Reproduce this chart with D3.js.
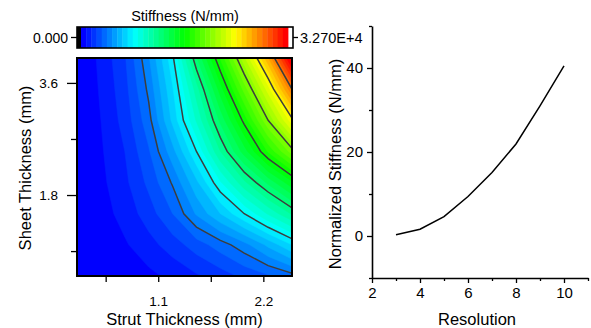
<!DOCTYPE html>
<html>
<head>
<meta charset="utf-8">
<script src="https://cdn.jsdelivr.net/npm/d3@7"></script>
<style>
  body { margin: 0; background: #fff; }
  text { font-family: "Liberation Sans", Arial, sans-serif; fill: #000; }
</style>
</head>
<body>
<svg id="chart" width="591" height="328"></svg>
<script>
// ---- data ----
// contour grid: columns = strut thickness, rows = sheet thickness (bottom row first)
var strutThickness = [0.25, 0.5, 0.75, 1.0, 1.25, 1.5, 1.75, 2.0, 2.25, 2.5];
var sheetThickness = [0.5, 1.0, 1.5, 2.0, 2.5, 3.0, 3.5, 4.0];
var stiffnessRows = [
    [0, 100, 300, 600, 1000, 1500, 2000, 2600, 3100, 3700],
    [0, 300, 700, 1300, 2000, 2800, 3600, 4500, 5800, 7200],
    [0, 450, 1100, 2000, 3200, 4900, 6400, 8000, 9700, 11300],
    [0, 600, 1400, 2600, 4100, 6200, 8700, 11000, 13000, 15000],
    [0, 700, 1600, 3100, 5300, 8000, 11200, 14000, 16900, 19600],
    [0, 800, 1900, 3700, 6600, 9700, 13000, 16300, 20000, 23700],
    [0, 900, 2100, 4200, 7100, 10800, 14800, 18700, 22800, 28000],
    [0, 1000, 2300, 4700, 7800, 12700, 16900, 21400, 26300, 32700]
];
var fillStep = 800;           // colour level spacing
var fillCount = 40;           // number of colour levels
var lineLevels = [4000, 8000, 12000, 16000, 20000, 24000, 28000];
var colorbarLabels = ['0.000', '3.270E+4'];

var strutTicks = [1.1, 2.2];
var strutMinor = [0.55, 1.65];
var sheetTicks = [1.8, 3.6];
var sheetMinor = [0.9, 2.7];

// line chart
var resolution = [3, 4, 5, 6, 7, 8, 9, 10];
var normStiffness = [0.3, 1.6, 4.6, 9.4, 15.1, 21.9, 31.0, 40.5];
var resTicks = [2, 4, 6, 8, 10];
var resMinor = [3, 5, 7, 9, 11];
var normTicks = [0, 20, 40];
var normMinor = [-10, 10, 30, 50];

var svg = d3.select('#chart');

// rainbow colour map blue -> cyan -> green -> yellow -> red
var rainbow = d3.scaleLinear()
    .domain([0, 0.25, 0.5, 0.75, 1])
    .range(['#0000ff', '#00ffff', '#00ff00', '#ffff00', '#ff0000']);
function levelColor(k) { return rainbow(k / (fillCount - 1)); }

// ===== Section: contour plot =====
var plot = {l: 77, r: 292, t: 58, b: 276};
var xL = d3.scaleLinear().domain([0.25, 2.5]).range([plot.l, plot.r]);
var yL = d3.scaleLinear().domain([0.5, 4.0]).range([plot.b, plot.t]);

var nx = strutThickness.length, ny = sheetThickness.length;
var values = [].concat.apply([], stiffnessRows);
var ds = strutThickness[1] - strutThickness[0];
var dt = sheetThickness[1] - sheetThickness[0];

var proj = d3.geoTransform({
    point: function(gx, gy) {
        this.stream.point(xL(strutThickness[0] + (gx - 0.5) * ds),
                          yL(sheetThickness[0] + (gy - 0.5) * dt));
    }
});
var path = d3.geoPath(proj);

svg.append('clipPath').attr('id', 'plotClip')
  .append('rect')
    .attr('x', plot.l).attr('y', plot.t)
    .attr('width', plot.r - plot.l).attr('height', plot.b - plot.t);

var contourG = svg.append('g').attr('clip-path', 'url(#plotClip)');

contourG.append('rect')
    .attr('x', plot.l).attr('y', plot.t)
    .attr('width', plot.r - plot.l).attr('height', plot.b - plot.t)
    .attr('fill', levelColor(0));

var fillThresholds = d3.range(1, fillCount).map(k => k * fillStep);
var fills = d3.contours().size([nx, ny]).thresholds(fillThresholds)(values);
contourG.selectAll('path.band')
    .data(fills).enter()
    .append('path')
    .attr('class', 'band')
    .attr('d', path)
    .attr('fill', (d, i) => levelColor(i + 1))
    .attr('stroke', (d, i) => levelColor(i + 1))
    .attr('stroke-width', 0.5);

var lines = d3.contours().size([nx, ny]).thresholds(lineLevels)(values);
contourG.selectAll('path.iso')
    .data(lines).enter()
    .append('path')
    .attr('class', 'iso')
    .attr('d', path)
    .attr('fill', 'none')
    .attr('stroke', '#3d3d3d')
    .attr('stroke-width', 1.5);

svg.append('rect')
    .attr('x', plot.l).attr('y', plot.t)
    .attr('width', plot.r - plot.l).attr('height', plot.b - plot.t)
    .attr('fill', 'none').attr('stroke', '#000').attr('stroke-width', 2);

function styleAxis(g, size) {
    g.select('.domain').remove();
    g.selectAll('line').attr('stroke', '#000').attr('stroke-width', 1.3);
    g.selectAll('text').attr('font-size', size).attr('font-family', '"Liberation Sans", Arial, sans-serif');
}

var xAxisL = svg.append('g').attr('transform', 'translate(0,' + (plot.b + 1) + ')')
    .call(d3.axisBottom(xL).tickValues(strutTicks).tickFormat(d3.format('.1f')).tickSize(5).tickPadding(14));
styleAxis(xAxisL, 13.5);
var xMinorL = svg.append('g').attr('transform', 'translate(0,' + (plot.b + 1) + ')')
    .call(d3.axisBottom(xL).tickValues(strutMinor).tickFormat('').tickSize(5));
styleAxis(xMinorL, 13.5);

var yAxisL = svg.append('g').attr('transform', 'translate(' + (plot.l - 1) + ',0)')
    .call(d3.axisLeft(yL).tickValues(sheetTicks).tickFormat(d3.format('.1f')).tickSize(9).tickPadding(9));
styleAxis(yAxisL, 13.5);
var yMinorL = svg.append('g').attr('transform', 'translate(' + (plot.l - 1) + ',0)')
    .call(d3.axisLeft(yL).tickValues(sheetMinor).tickFormat('').tickSize(5));
styleAxis(yMinorL, 13.5);

svg.append('text')
    .attr('x', (plot.l + plot.r) / 2).attr('y', 325)
    .attr('text-anchor', 'middle').attr('font-size', 16.5)
    .text('Strut Thickness (mm)');
svg.append('text')
    .attr('transform', 'translate(31,' + ((plot.t + plot.b) / 2 + 1) + ')rotate(-90)')
    .attr('text-anchor', 'middle').attr('font-size', 16.5)
    .text('Sheet Thickness (mm)');

// ---- colour bar ----
var cb = {l: 77, r: 293, t: 27, b: 48, c0: 81, c1: 288};
var cbScale = d3.scaleLinear().domain([0, fillCount]).range([cb.c0, cb.c1]);
var cbG = svg.append('g');
cbG.append('rect')
    .attr('x', cb.l).attr('y', cb.t).attr('width', cb.c0 - cb.l).attr('height', cb.b - cb.t)
    .attr('fill', '#000');
cbG.selectAll('rect.lvl')
    .data(d3.range(fillCount)).enter()
    .append('rect')
    .attr('class', 'lvl')
    .attr('x', k => cbScale(k))
    .attr('y', cb.t)
    .attr('width', k => cbScale(k + 1) - cbScale(k) + 0.4)
    .attr('height', cb.b - cb.t)
    .attr('fill', k => levelColor(k));
cbG.append('rect')
    .attr('x', cb.l).attr('y', cb.t).attr('width', cb.r - cb.l).attr('height', cb.b - cb.t)
    .attr('fill', 'none').attr('stroke', '#000').attr('stroke-width', 1.6);
var cbMid = (cb.t + cb.b) / 2;
cbG.append('line').attr('x1', cb.l - 6).attr('x2', cb.l).attr('y1', cbMid).attr('y2', cbMid)
    .attr('stroke', '#000').attr('stroke-width', 1.3);
cbG.append('line').attr('x1', cb.r).attr('x2', cb.r + 5).attr('y1', cbMid).attr('y2', cbMid)
    .attr('stroke', '#000').attr('stroke-width', 1.3);
cbG.append('text').attr('x', 68).attr('y', cbMid + 5)
    .attr('text-anchor', 'end').attr('font-size', 14).text(colorbarLabels[0]);
cbG.append('text').attr('x', 300).attr('y', cbMid + 5)
    .attr('text-anchor', 'start').attr('font-size', 14.5).text(colorbarLabels[1]);
cbG.append('text').attr('x', 185).attr('y', 21)
    .attr('text-anchor', 'middle').attr('font-size', 14.5).text('Stiffness (N/mm)');

// ===== Section: line chart =====
var rp = {l: 372, r: 588, t: 26, b: 278};
var xR = d3.scaleLinear().domain([2, 11]).range([rp.l, rp.r]);
var yR = d3.scaleLinear().domain([-10, 50]).range([rp.b, rp.t]);

var xAxisR = svg.append('g').attr('transform', 'translate(0,' + rp.b + ')')
    .call(d3.axisBottom(xR).tickValues(resTicks).tickSize(5).tickSizeOuter(0).tickPadding(4));
var xMinorR = svg.append('g').attr('transform', 'translate(0,' + rp.b + ')')
    .call(d3.axisBottom(xR).tickValues(resMinor).tickFormat('').tickSize(3).tickSizeOuter(0));
var yAxisR = svg.append('g').attr('transform', 'translate(' + rp.l + ',0)')
    .call(d3.axisLeft(yR).tickValues(normTicks).tickSize(5).tickSizeOuter(0).tickPadding(4));
var yMinorR = svg.append('g').attr('transform', 'translate(' + rp.l + ',0)')
    .call(d3.axisLeft(yR).tickValues(normMinor).tickFormat('').tickSize(3).tickSizeOuter(0));

[xMinorR, yMinorR].forEach(g => g.select('.domain').remove());
[xAxisR, xMinorR, yAxisR, yMinorR].forEach(g => {
    g.selectAll('line').attr('stroke', '#000').attr('stroke-width', 1.3);
    g.select('.domain').attr('stroke', '#000').attr('stroke-width', 1.6);
    g.selectAll('text').attr('font-size', 15).attr('font-family', '"Liberation Sans", Arial, sans-serif');
});

var line = d3.line()
    .x((d, i) => xR(resolution[i]))
    .y(d => yR(d));
svg.append('path')
    .datum(normStiffness)
    .attr('d', line)
    .attr('fill', 'none')
    .attr('stroke', '#000')
    .attr('stroke-width', 1.5);

svg.append('text')
    .attr('x', 477).attr('y', 325)
    .attr('text-anchor', 'middle').attr('font-size', 16.5)
    .text('Resolution');
svg.append('text')
    .attr('transform', 'translate(341,164)rotate(-90)')
    .attr('text-anchor', 'middle').attr('font-size', 16.5)
    .text('Normalized Stiffness (N/mm)');
</script>
</body>
</html>
